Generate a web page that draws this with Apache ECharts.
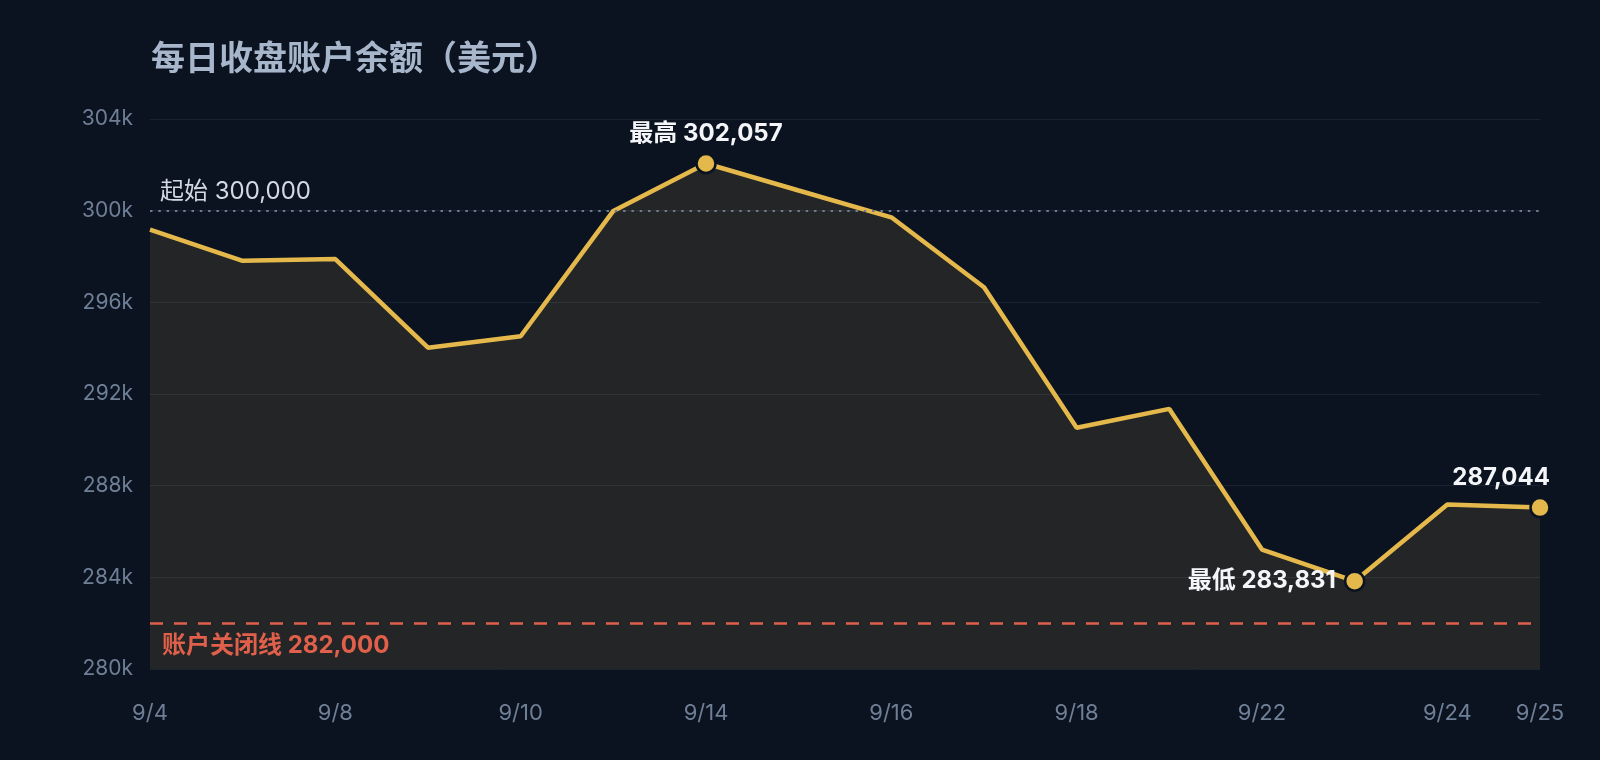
<!DOCTYPE html>
<html>
<head>
<meta charset="utf-8">
<script src="https://cdn.jsdelivr.net/npm/echarts@6/dist/echarts.min.js"></script>
<style>
  html, body { margin: 0; padding: 0; background: #0b1321; }
  #chart { width: 1600px; height: 760px; }
</style>
</head>
<body>
<div id="chart"></div>
<script>
// ---- data ----
const titleText = '每日收盘账户余额（美元）';
const categories = ['9/4','9/5','9/8','9/9','9/10','9/11','9/14','9/15','9/16','9/17','9/18','9/19','9/22','9/23','9/24','9/25'];
const balances = [299170, 297810, 297890, 294020, 294520, 299990, 302057, 300880, 299710, 296660, 290530, 291350, 285210, 283831, 287180, 287044];
const startLevel = 300000;
const closeLevel = 282000;
const yMin = 280000, yMax = 304000, yStep = 4000;
const startLabel = '起始';
const closeLabel = '账户关闭线';
const maxLabel = '最高';
const minLabel = '最低';

// ---- build ----
const fmt = v => v.toLocaleString('en-US');
const FONT = 'Inter, "Noto Sans CJK SC", sans-serif';
const maxIdx = balances.indexOf(Math.max(...balances));
const minIdx = balances.indexOf(Math.min(...balances));
const lastIdx = balances.length - 1;

const dotStyle = { color: '#e5b84b', borderColor: '#0b1321', borderWidth: 2.5 };
const labelBase = { show: true, color: '#f3f5f8', fontSize: 24, fontWeight: 'bold', fontFamily: FONT };

const seriesData = balances.map((v, i) => {
  if (i === maxIdx) return { value: v, symbolSize: 19, itemStyle: dotStyle,
    label: Object.assign({}, labelBase, { position: 'top', distance: 7, formatter: maxLabel + ' ' + fmt(v) }) };
  if (i === minIdx) return { value: v, symbolSize: 19, itemStyle: dotStyle,
    label: Object.assign({}, labelBase, { position: 'left', distance: 8, formatter: minLabel + ' ' + fmt(v) }) };
  if (i === lastIdx) return { value: v, symbolSize: 19, itemStyle: dotStyle,
    label: Object.assign({}, labelBase, { position: 'top', distance: 7, align: 'right', offset: [10, 0], formatter: fmt(v) }) };
  return { value: v, symbolSize: 0 };
});

const chart = echarts.init(document.getElementById('chart'), null, { renderer: 'canvas' });
chart.setOption({
  backgroundColor: '#0b1321',
  animation: false,
  title: {
    text: titleText, left: 146, top: 38,
    textStyle: { color: '#a7b6cb', fontSize: 34, fontWeight: 'bold', fontFamily: FONT }
  },
  grid: { left: 150, right: 60, top: 119, bottom: 91, containLabel: false },
  xAxis: {
    type: 'category', data: categories, boundaryGap: false,
    axisLine: { show: false }, axisTick: { show: false },
    axisLabel: {
      color: '#6f7f96', fontSize: 22, fontFamily: FONT, margin: 33,
      interval: (i) => i % 2 === 0 || i === categories.length - 1,
      hideOverlap: false
    },
    splitLine: { show: false }
  },
  yAxis: {
    type: 'value', min: yMin, max: yMax, interval: yStep,
    axisLine: { show: false }, axisTick: { show: false },
    axisLabel: { color: '#6f7f96', fontSize: 21, fontFamily: FONT, margin: 17,
      formatter: v => (v / 1000) + 'k' },
    splitLine: { lineStyle: { color: '#1a2331', width: 1 } }
  },
  series: [{
    type: 'line', data: seriesData, symbol: 'circle', showSymbol: true, showAllSymbol: true,
    lineStyle: { color: '#e5b84b', width: 4.5 },
    itemStyle: { color: '#e5b84b' },
    areaStyle: { color: 'rgba(229,184,75,0.115)', opacity: 1 },
    z: 3,
    markLine: {
      silent: true, symbol: ['none', 'none'],
      data: [
        { yAxis: startLevel,
          lineStyle: { color: '#6c7b91', width: 2, type: [2.5, 5.8] },
          label: { show: true, position: 'insideStartTop', distance: [10, 7],
            formatter: startLabel + ' ' + fmt(startLevel),
            color: '#d3dae4', fontSize: 24, fontFamily: FONT } },
        { yAxis: closeLevel,
          lineStyle: { color: '#e0604b', width: 2.5, type: [13, 11] },
          label: { show: true, position: 'insideStartBottom', distance: [12, 11],
            formatter: closeLabel + ' ' + fmt(closeLevel),
            color: '#e0604b', fontSize: 24, fontWeight: 'bold', fontFamily: FONT } }
      ]
    }
  }]
});
</script>
</body>
</html>
